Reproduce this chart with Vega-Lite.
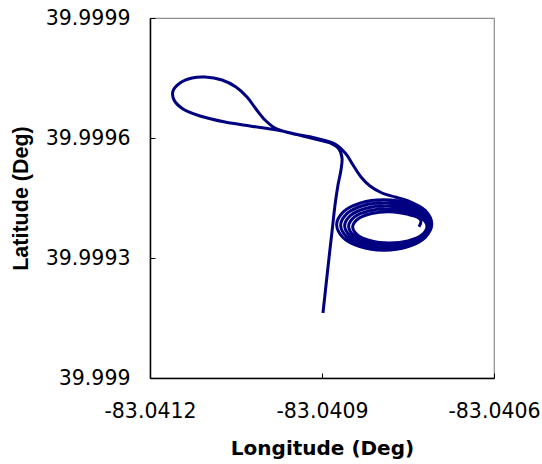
{
  "$schema": "https://vega.github.io/schema/vega-lite/v6.json",
  "width": 344,
  "height": 360,
  "autosize": "none",
  "padding": {"left": 150, "top": 18, "right": 48, "bottom": 86},
  "background": "white",
  "config": {
    "view": {"stroke": "#8c8c8c", "strokeWidth": 1.2},
    "axis": {
      "grid": false,
      "labelFlush": false,
      "domainColor": "black",
      "domainWidth": 1.5,
      "tickColor": "black",
      "tickWidth": 1,
      "tickSize": -5,
      "labelFont": "DejaVu Sans",
      "labelFontSize": 20.5,
      "labelColor": "black",
      "titleFont": "DejaVu Sans",
      "titleFontSize": 20,
      "titleFontWeight": "bold",
      "titleColor": "black"
    }
  },
  "data": {
    "values": [
      {"i": 1, "lon": -83.0408983, "lat": 39.9991625},
      {"i": 2, "lon": -83.0408930, "lat": 39.9992325},
      {"i": 3, "lon": -83.0408878, "lat": 39.9993000},
      {"i": 4, "lon": -83.0408826, "lat": 39.9993650},
      {"i": 5, "lon": -83.0408773, "lat": 39.9994325},
      {"i": 6, "lon": -83.0408721, "lat": 39.9994825},
      {"i": 7, "lon": -83.0408669, "lat": 39.9995200},
      {"i": 8, "lon": -83.0408651, "lat": 39.9995500},
      {"i": 9, "lon": -83.0408704, "lat": 39.9995725},
      {"i": 10, "lon": -83.0408860, "lat": 39.9995875},
      {"i": 11, "lon": -83.0409122, "lat": 39.9995975},
      {"i": 12, "lon": -83.0409471, "lat": 39.9996100},
      {"i": 13, "lon": -83.0409785, "lat": 39.9996200},
      {"i": 14, "lon": -83.0410256, "lat": 39.9996300},
      {"i": 15, "lon": -83.0410692, "lat": 39.9996400},
      {"i": 16, "lon": -83.0411128, "lat": 39.9996550},
      {"i": 17, "lon": -83.0411424, "lat": 39.9996725},
      {"i": 18, "lon": -83.0411581, "lat": 39.9996950},
      {"i": 19, "lon": -83.0411599, "lat": 39.9997175},
      {"i": 20, "lon": -83.0411477, "lat": 39.9997375},
      {"i": 21, "lon": -83.0411267, "lat": 39.9997500},
      {"i": 22, "lon": -83.0411041, "lat": 39.9997525},
      {"i": 23, "lon": -83.0410744, "lat": 39.9997450},
      {"i": 24, "lon": -83.0410500, "lat": 39.9997275},
      {"i": 25, "lon": -83.0410308, "lat": 39.9997025},
      {"i": 26, "lon": -83.0410151, "lat": 39.9996725},
      {"i": 27, "lon": -83.0409994, "lat": 39.9996450},
      {"i": 28, "lon": -83.0409820, "lat": 39.9996250},
      {"i": 29, "lon": -83.0409558, "lat": 39.9996125},
      {"i": 30, "lon": -83.0409122, "lat": 39.9996000},
      {"i": 31, "lon": -83.0408773, "lat": 39.9995850},
      {"i": 32, "lon": -83.0408581, "lat": 39.9995600},
      {"i": 33, "lon": -83.0408459, "lat": 39.9995325},
      {"i": 34, "lon": -83.0408320, "lat": 39.9995025},
      {"i": 35, "lon": -83.0408163, "lat": 39.9994800},
      {"i": 36, "lon": -83.0407954, "lat": 39.9994625},
      {"i": 37, "lon": -83.0407727, "lat": 39.9994525},
      {"i": 38, "lon": -83.0407509, "lat": 39.9994435},
      {"i": 39, "lon": -83.0407197, "lat": 39.9994184},
      {"i": 40, "lon": -83.0407085, "lat": 39.9993848},
      {"i": 41, "lon": -83.0407200, "lat": 39.9993516},
      {"i": 42, "lon": -83.0407509, "lat": 39.9993278},
      {"i": 43, "lon": -83.0407926, "lat": 39.9993194},
      {"i": 44, "lon": -83.0408340, "lat": 39.9993285},
      {"i": 45, "lon": -83.0408639, "lat": 39.9993521},
      {"i": 46, "lon": -83.0408744, "lat": 39.9993840},
      {"i": 47, "lon": -83.0408628, "lat": 39.9994154},
      {"i": 48, "lon": -83.0408324, "lat": 39.9994379},
      {"i": 49, "lon": -83.0407913, "lat": 39.9994456},
      {"i": 50, "lon": -83.0407507, "lat": 39.9994368},
      {"i": 51, "lon": -83.0407212, "lat": 39.9994139},
      {"i": 52, "lon": -83.0407106, "lat": 39.9993833},
      {"i": 53, "lon": -83.0407214, "lat": 39.9993531},
      {"i": 54, "lon": -83.0407507, "lat": 39.9993315},
      {"i": 55, "lon": -83.0407901, "lat": 39.9993239},
      {"i": 56, "lon": -83.0408293, "lat": 39.9993321},
      {"i": 57, "lon": -83.0408575, "lat": 39.9993536},
      {"i": 58, "lon": -83.0408674, "lat": 39.9993825},
      {"i": 59, "lon": -83.0408565, "lat": 39.9994109},
      {"i": 60, "lon": -83.0408277, "lat": 39.9994313},
      {"i": 61, "lon": -83.0407889, "lat": 39.9994381},
      {"i": 62, "lon": -83.0407505, "lat": 39.9994301},
      {"i": 63, "lon": -83.0407227, "lat": 39.9994094},
      {"i": 64, "lon": -83.0407127, "lat": 39.9993818},
      {"i": 65, "lon": -83.0407230, "lat": 39.9993546},
      {"i": 66, "lon": -83.0407504, "lat": 39.9993351},
      {"i": 67, "lon": -83.0407877, "lat": 39.9993284},
      {"i": 68, "lon": -83.0408246, "lat": 39.9993358},
      {"i": 69, "lon": -83.0408512, "lat": 39.9993551},
      {"i": 70, "lon": -83.0408605, "lat": 39.9993810},
      {"i": 71, "lon": -83.0408501, "lat": 39.9994064},
      {"i": 72, "lon": -83.0408230, "lat": 39.9994245},
      {"i": 73, "lon": -83.0407865, "lat": 39.9994306},
      {"i": 74, "lon": -83.0407504, "lat": 39.9994234},
      {"i": 75, "lon": -83.0407242, "lat": 39.9994049},
      {"i": 76, "lon": -83.0407148, "lat": 39.9993803},
      {"i": 77, "lon": -83.0407244, "lat": 39.9993561},
      {"i": 78, "lon": -83.0407503, "lat": 39.9993389},
      {"i": 79, "lon": -83.0407852, "lat": 39.9993329},
      {"i": 80, "lon": -83.0408199, "lat": 39.9993395},
      {"i": 81, "lon": -83.0408448, "lat": 39.9993566},
      {"i": 82, "lon": -83.0408535, "lat": 39.9993795},
      {"i": 83, "lon": -83.0408438, "lat": 39.9994019},
      {"i": 84, "lon": -83.0408183, "lat": 39.9994178},
      {"i": 85, "lon": -83.0407840, "lat": 39.9994231},
      {"i": 86, "lon": -83.0407502, "lat": 39.9994166},
      {"i": 87, "lon": -83.0407257, "lat": 39.9994004},
      {"i": 88, "lon": -83.0407169, "lat": 39.9993788},
      {"i": 89, "lon": -83.0407259, "lat": 39.9993576},
      {"i": 90, "lon": -83.0407501, "lat": 39.9993426},
      {"i": 91, "lon": -83.0407828, "lat": 39.9993374},
      {"i": 92, "lon": -83.0408152, "lat": 39.9993431},
      {"i": 93, "lon": -83.0408384, "lat": 39.9993581},
      {"i": 94, "lon": -83.0408465, "lat": 39.9993780},
      {"i": 95, "lon": -83.0408374, "lat": 39.9993974},
      {"i": 96, "lon": -83.0408136, "lat": 39.9994111},
      {"i": 97, "lon": -83.0407816, "lat": 39.9994156},
      {"i": 98, "lon": -83.0407500, "lat": 39.9994090},
      {"i": 99, "lon": -83.0407326, "lat": 39.9994013},
      {"i": 100, "lon": -83.0407273, "lat": 39.9993925},
      {"i": 101, "lon": -83.0407308, "lat": 39.9993780}
    ]
  },
  "mark": {"type": "line", "color": "#000080", "strokeWidth": 3, "interpolate": "catmull-rom", "clip": true},
  "encoding": {
    "order": {"field": "i", "type": "quantitative"},
    "x": {
      "field": "lon",
      "type": "quantitative",
      "scale": {"domain": [-83.0412, -83.0406], "nice": false, "zero": false},
      "axis": {
        "title": "Longitude (Deg)",
        "values": [-83.0412, -83.0409, -83.0406],
        "labelExpr": "'-' + format(abs(datum.value), '.4f')",
        "labelPadding": 28,
        "titlePadding": 17
      }
    },
    "y": {
      "field": "lat",
      "type": "quantitative",
      "scale": {"domain": [39.999, 39.9999], "nice": false, "zero": false},
      "axis": {
        "title": "Latitude (Deg)",
        "titleFont": "Liberation Sans",
        "titleFontSize": 21.5,
        "values": [39.999, 39.9993, 39.9996, 39.9999],
        "format": ".4~f",
        "labelPadding": 25,
        "titlePadding": 13
      }
    }
  }
}
